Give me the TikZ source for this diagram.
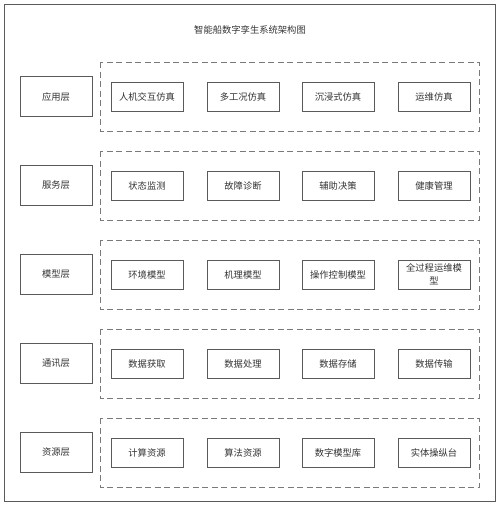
\documentclass[tikz,border=0pt]{standalone}
\usepackage{fontspec}
\newfontfamily\cjk{Noto Sans CJK SC}
\definecolor{boxline}{HTML}{5A5A5A}
\definecolor{dashline}{HTML}{7A7A7A}
\definecolor{txt}{HTML}{333333}
\begin{document}
\begin{tikzpicture}[x=1pt,y=-1pt,
  every node/.style={font=\cjk\fontsize{9.3}{13}\selectfont, text=txt},
  layerbox/.style={draw=boxline, line width=0.85pt, minimum width=72pt, minimum height=40pt, inner sep=0pt},
  itembox/.style={draw=boxline, line width=0.85pt, minimum width=72pt, minimum height=29pt, inner sep=1pt, align=center},
  groupbox/.style={draw=dashline, line width=0.85pt, dash pattern=on 6pt off 3.5pt}]
\useasboundingbox (0,0) rectangle (500,506);
\draw[boxline, line width=0.85pt] (4,4) rectangle (495,501);
\node (title) at (250,30) {智能船数字孪生系统架构图};
\foreach \i/\lay/\a/\b/\c/\d in {
  1/应用层/人机交互仿真/多工况仿真/沉浸式仿真/运维仿真,
  2/服务层/状态监测/故障诊断/辅助决策/健康管理,
  3/模型层/环境模型/机理模型/操作控制模型/{全过程运维模\\型},
  4/通讯层/数据获取/数据处理/数据存储/数据传输,
  5/资源层/计算资源/算法资源/数字模型库/实体操纵台}{
  \pgfmathsetmacro{\yc}{96.5+(\i-1)*89}
  \draw[groupbox] (100,\yc-34.5) rectangle (479,\yc+34.5);
  \node[layerbox] (L\i) at (56,\yc) {\lay};
  \node[itembox] (A\i) at (147,\yc) {\a};
  \node[itembox] (B\i) at (243,\yc) {\b};
  \node[itembox] (C\i) at (338,\yc) {\c};
  \node[itembox] (D\i) at (434,\yc) {\d};
}
\end{tikzpicture}
\end{document}
